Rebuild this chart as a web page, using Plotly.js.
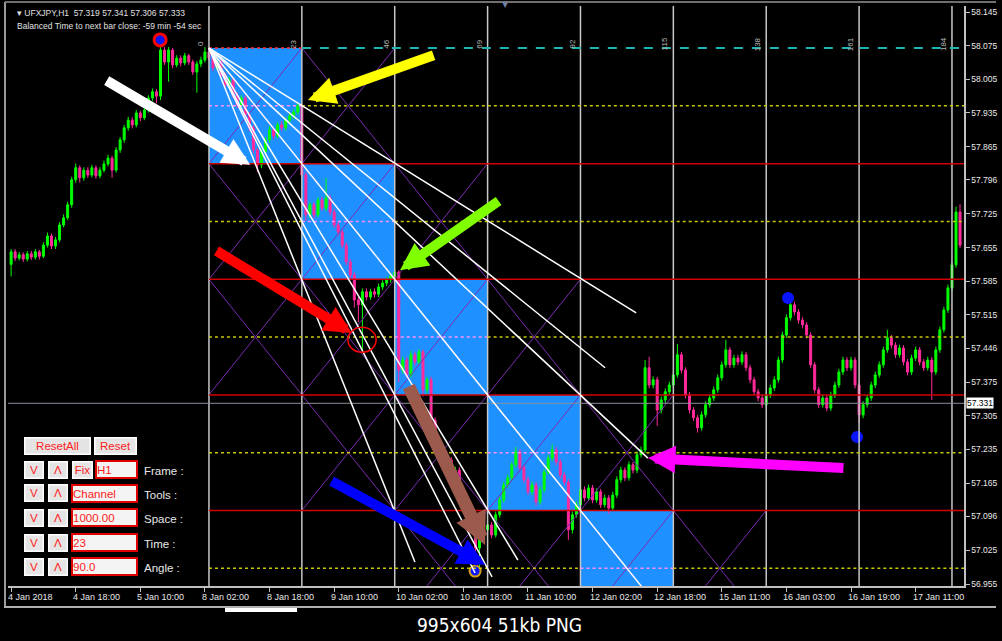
<!DOCTYPE html>
<html><head><meta charset="utf-8">
<script src="https://cdn.plot.ly/plotly-3.0.1.min.js"></script>
<style>html,body{margin:0;padding:0;background:#000;overflow:hidden}#chart{width:1002px;height:641px}</style>
</head><body><div id="chart"></div>
<script>
// ---------- DATA ----------
const firstOpen = 57.620;
const closes = [
57.646,57.633,57.640,57.631,57.642,57.635,57.646,57.637,57.660,57.679,
57.658,57.671,57.702,57.717,57.744,57.796,57.821,57.800,57.816,57.806,
57.821,57.804,57.816,57.829,57.841,57.816,57.858,57.879,57.904,57.920,
57.910,57.935,57.925,57.941,57.966,57.979,57.970,58.066,58.041,58.066,
58.035,58.049,58.039,58.054,58.041,58.020,58.037,58.045,58.062,58.049,
58.029,58.041,58.014,57.993,58.004,57.972,57.952,57.966,57.931,57.904,
57.858,57.827,57.854,57.879,57.900,57.887,57.910,57.904,57.920,57.929,
57.937,57.950,57.806,57.723,57.744,57.723,57.754,57.737,57.758,57.729,
57.702,57.687,57.660,57.625,57.598,57.546,57.536,57.563,57.552,57.563,
57.558,57.573,57.581,57.588,57.596,57.604,57.400,57.421,57.390,57.432,
57.417,57.438,57.359,57.380,57.296,57.255,57.224,57.197,57.213,57.176,
57.192,57.151,57.130,57.099,57.068,57.030,57.047,57.068,57.078,57.057,
57.099,57.130,57.161,57.176,57.203,57.230,57.197,57.172,57.147,57.161,
57.126,57.151,57.188,57.217,57.234,57.209,57.182,57.167,57.068,57.099,
57.120,57.151,57.134,57.155,57.130,57.147,57.120,57.134,57.113,57.140,
57.172,57.192,57.176,57.203,57.192,57.224,57.234,57.405,57.369,57.380,
57.317,57.338,57.355,57.369,57.390,57.432,57.400,57.348,57.317,57.301,
57.280,57.307,57.328,57.342,57.359,57.384,57.411,57.442,57.411,57.425,
57.417,57.432,57.405,57.380,57.355,57.342,57.328,57.348,57.363,57.380,
57.421,57.473,57.509,57.536,57.521,57.504,57.494,57.473,57.411,57.359,
57.328,57.342,57.321,57.348,57.369,57.396,57.421,57.405,57.421,57.369,
57.307,57.328,57.342,57.369,57.390,57.411,57.442,57.467,57.452,57.432,
57.446,57.417,57.396,57.425,57.442,57.417,57.405,57.421,57.396,57.442,
57.484,57.525,57.571,57.619,57.729,57.660];
const highs = [
57.652,57.652,57.646,57.645,57.648,57.648,57.652,57.650,57.666,57.686,
57.684,57.677,57.708,57.724,57.750,57.802,57.830,57.826,57.822,57.822,
57.827,57.826,57.822,57.836,57.848,57.846,57.864,57.885,57.910,57.927,
57.926,57.941,57.940,57.948,57.972,57.986,57.985,58.087,58.072,58.072,
58.070,58.055,58.055,58.060,58.058,58.046,58.043,58.052,58.072,58.068,
58.055,58.047,58.046,58.020,58.010,58.010,57.978,57.972,57.971,57.937,
57.910,57.862,57.860,57.885,57.907,57.906,57.916,57.917,57.926,57.935,
57.943,57.956,57.954,57.812,57.750,57.750,57.760,57.760,57.800,57.764,
57.735,57.708,57.693,57.666,57.631,57.604,57.552,57.570,57.570,57.569,
57.570,57.580,57.587,57.594,57.602,57.612,57.608,57.428,57.427,57.440,
57.438,57.444,57.443,57.386,57.386,57.302,57.261,57.230,57.220,57.219,
57.199,57.198,57.157,57.136,57.105,57.074,57.053,57.075,57.085,57.084,
57.106,57.137,57.168,57.183,57.210,57.240,57.236,57.203,57.178,57.168,
57.167,57.158,57.195,57.224,57.245,57.240,57.215,57.188,57.173,57.106,
57.127,57.158,57.158,57.162,57.161,57.154,57.153,57.141,57.140,57.147,
57.179,57.199,57.198,57.210,57.209,57.231,57.241,57.421,57.428,57.387,
57.386,57.345,57.362,57.376,57.397,57.454,57.438,57.406,57.354,57.323,
57.307,57.314,57.335,57.349,57.366,57.391,57.418,57.463,57.448,57.432,
57.432,57.439,57.438,57.411,57.386,57.361,57.348,57.355,57.370,57.387,
57.428,57.480,57.516,57.550,57.542,57.527,57.510,57.500,57.479,57.417,
57.365,57.349,57.348,57.355,57.376,57.403,57.428,57.427,57.428,57.427,
57.375,57.335,57.349,57.376,57.397,57.418,57.449,57.484,57.473,57.458,
57.453,57.452,57.423,57.432,57.449,57.448,57.423,57.428,57.427,57.449,
57.491,57.532,57.578,57.626,57.740,57.745];
const lows = [
57.595,57.627,57.628,57.625,57.626,57.629,57.630,57.630,57.633,57.655,
57.652,57.652,57.666,57.697,57.712,57.738,57.790,57.790,57.794,57.800,
57.801,57.798,57.799,57.811,57.824,57.800,57.811,57.852,57.873,57.898,
57.903,57.905,57.918,57.920,57.936,57.960,57.955,57.962,58.035,58.000,
58.028,58.030,58.032,58.034,58.035,58.014,57.977,58.030,58.040,58.043,
58.022,58.024,58.008,57.986,57.987,57.965,57.945,57.946,57.925,57.897,
57.851,57.812,57.820,57.848,57.873,57.880,57.882,57.897,57.898,57.914,
57.922,57.931,57.800,57.710,57.716,57.716,57.718,57.731,57.731,57.722,
57.696,57.680,57.653,57.618,57.590,57.530,57.500,57.442,57.545,57.546,
57.551,57.552,57.567,57.575,57.582,57.590,57.375,57.393,57.384,57.385,
57.410,57.411,57.345,57.352,57.289,57.248,57.217,57.190,57.191,57.170,
57.170,57.144,57.123,57.092,57.060,57.015,56.980,57.040,57.060,57.050,
57.052,57.093,57.124,57.155,57.170,57.197,57.190,57.165,57.140,57.140,
57.118,57.120,57.145,57.182,57.211,57.202,57.175,57.160,57.047,57.060,
57.093,57.114,57.127,57.128,57.123,57.124,57.113,57.114,57.101,57.107,
57.134,57.166,57.169,57.170,57.185,57.186,57.218,57.228,57.362,57.362,
57.284,57.310,57.331,57.349,57.363,57.384,57.393,57.341,57.310,57.294,
57.270,57.274,57.301,57.322,57.336,57.353,57.378,57.405,57.404,57.405,
57.410,57.411,57.398,57.373,57.348,57.335,57.321,57.322,57.342,57.357,
57.374,57.415,57.467,57.503,57.514,57.497,57.487,57.466,57.404,57.352,
57.321,57.322,57.314,57.315,57.342,57.363,57.390,57.398,57.399,57.362,
57.290,57.300,57.322,57.336,57.363,57.384,57.405,57.436,57.445,57.425,
57.426,57.410,57.389,57.390,57.419,57.410,57.398,57.399,57.338,57.390,
57.436,57.478,57.519,57.565,57.613,57.654];

const xTickBars = [0,16,32,48,64,80,96,112,128,144,160,176,192,208,224];
const xTickLabels = ["4 Jan 2018","4 Jan 18:00","5 Jan 10:00","8 Jan 02:00","8 Jan 18:00","9 Jan 10:00","10 Jan 02:00","10 Jan 18:00","11 Jan 10:00","12 Jan 02:00","12 Jan 18:00","15 Jan 11:00","16 Jan 03:00","16 Jan 19:00","17 Jan 11:00"];
const yTickVals = [58.145,58.075,58.005,57.935,57.865,57.796,57.725,57.655,57.585,57.515,57.446,57.375,57.305,57.235,57.165,57.096,57.025,56.955];
const yTickText = ["58.145","58.075","58.005","57.935","57.865","57.796","57.725","57.655","57.585","57.515","57.446","57.375","57.305","57.235","57.165","57.096","57.025","56.955"];
const currentPrice = 57.331;

// Gann grid tool (origin bar, origin price, cell size)
const gridBar0 = 49, gridPrice0 = 58.070, gridBars = 23, gridStep = 0.2405;
const timeLabels = ["0","23","46","69","92","115","138","161","184"];
// fan line end points [bar, price]
const fanEnds = [[100.0,57.001],[114.9,56.978],[119.1,56.970],[125.5,57.005],[164.0,56.8675],[157.7,57.217],[147.1,57.405],[154.8,57.519]];
// purple diagonal cells [column, row]
const xCells = [[0,0],[1,0],[0,1],[1,1],[2,1],[0,2],[1,2],[2,2],[3,2],[1,3],[2,3],[3,3],[4,3],[2,4],[3,4],[4,4],[5,4]];
// swing markers
const dotBars = [192.4, 209.5];
const dotPrices = [57.550, 57.261];

// ---------- BUILD ----------
const N = closes.length;
const bars = closes.map((_, i) => i);
const opens = closes.map((c, i) => i === 0 ? firstOpen : closes[i - 1]);

const L = 8, R = 38, T = 6, B = 55, W = 1002, H = 641;
const PW = W - L - R, PH = H - T - B;
const pxX = x => (x - L) / PW;
const pxY = y => (H - B - y) / PH;

const XMIN = -0.77, XMAX = 235.98, YMIN = 56.9509, YMAX = 58.1575;

const shapes = [];
const ann = [];
const ncols = 9;
// blue boxes
for (let k = 0; k < 5; k++) {
  shapes.push({type:'rect', layer:'below', xref:'x', yref:'y',
    x0: gridBar0 + k*gridBars, x1: gridBar0 + (k+1)*gridBars,
    y0: gridPrice0 - k*gridStep, y1: gridPrice0 - (k+1)*gridStep,
    fillcolor:'#1e90ff', line:{width:0}});
}
// purple diagonals
xCells.forEach(([c, r]) => {
  const x0 = gridBar0 + c*gridBars, x1 = x0 + gridBars;
  const y0 = gridPrice0 - r*gridStep, y1 = y0 - gridStep;
  shapes.push({type:'line', xref:'x', yref:'y', x0:x0, y0:y0, x1:x1, y1:y1, line:{color:'#7d2bb0', width:1}});
  shapes.push({type:'line', xref:'x', yref:'y', x0:x0, y0:y1, x1:x1, y1:y0, line:{color:'#7d2bb0', width:1}});
});
// vertical time lines
for (let k = 0; k < ncols; k++) {
  const xb = gridBar0 + k*gridBars;
  shapes.push({type:'line', xref:'x', yref:'paper', x0:xb, x1:xb, y0:0, y1:1, line:{color:'#c8c8c8', width:1.5}});
  ann.push({xref:'x', yref:'paper', x:xb - 0.6, y:pxY(44), text:timeLabels[k], showarrow:false, textangle:-90,
    xanchor:'right', yanchor:'middle', font:{family:'Liberation Sans', size:8, color:'#b8b8b8'}});
}
// red and yellow horizontal levels
for (let k = 1; k <= 4; k++) {
  shapes.push({type:'line', xref:'x', yref:'y', x0:gridBar0, x1:XMAX, y0:gridPrice0 - k*gridStep, y1:gridPrice0 - k*gridStep,
    line:{color:'#d00000', width:1.5}});
}
for (let k = 0; k < 5; k++) {
  const yv = gridPrice0 - (k + 0.5)*gridStep;
  const bx0 = gridBar0 + k*gridBars, bx1 = bx0 + gridBars;
  shapes.push({type:'line', xref:'x', yref:'y', x0:gridBar0, x1:bx0, y0:yv, y1:yv, line:{color:'#c8c800', width:1.5, dash:'dot'}});
  shapes.push({type:'line', xref:'x', yref:'y', x0:bx0, x1:bx1, y0:yv, y1:yv, line:{color:'#ff90ff', width:1.5, dash:'dot'}});
  shapes.push({type:'line', xref:'x', yref:'y', x0:bx1, x1:XMAX, y0:yv, y1:yv, line:{color:'#c8c800', width:1.5, dash:'dot'}});
}
// top level: red dotted on first box, cyan dashed beyond
shapes.push({type:'line', xref:'x', yref:'y', x0:gridBar0, x1:gridBar0+gridBars, y0:gridPrice0, y1:gridPrice0, line:{color:'#ff3030', width:1.5, dash:'dot'}});
shapes.push({type:'line', xref:'x', yref:'y', x0:gridBar0+gridBars, x1:XMAX, y0:gridPrice0, y1:gridPrice0, line:{color:'#1fb5b0', width:2, dash:'dash'}});
// current price line
shapes.push({type:'line', xref:'paper', yref:'y', x0:0, x1:1, y0:currentPrice, y1:currentPrice, line:{color:'#8a8f9a', width:1}});
// fan lines
fanEnds.forEach(([xb, yp]) => {
  shapes.push({type:'line', xref:'x', yref:'y', x0:gridBar0, y0:gridPrice0, x1:xb, y1:yp, line:{color:'#ffffff', width:1.5}});
});
// red circle
shapes.push({type:'circle', xref:'x', yref:'y', x0:83.4, x1:90.4, y0:57.437, y1:57.489, line:{color:'#ff0000', width:1.5}});

// arrows
const arrows = [
  {c:'#ffffff', t:[23.3,58.004], h:[59.2,57.827], w:10, s:0.55},
  {c:'#ffff00', t:[105.0,58.056], h:[73.5,57.962], w:10, s:0.55},
  {c:'#ff0000', t:[50.5,57.650], h:[84.4,57.477], w:10, s:0.55},
  {c:'#80ff00', t:[121.1,57.754], h:[96.3,57.608], w:10, s:0.55},
  {c:'#0000ff', t:[79.0,57.171], h:[117.4,56.995], w:10, s:0.55},
  {c:'#9c5a4c', t:[98.3,57.369], h:[117.4,57.036], w:13, s:0.5},
  {c:'#ff00ff', t:[206.5,57.196], h:[157.7,57.217], w:10, s:0.55}
];
arrows.forEach(a => ann.push({xref:'x', yref:'y', axref:'x', ayref:'y', x:a.h[0], y:a.h[1], ax:a.t[0], ay:a.t[1],
  text:'', showarrow:true, arrowhead:2, arrowsize:a.s, arrowwidth:a.w, arrowcolor:a.c}));

// x tick labels (left aligned like the terminal)
xTickBars.forEach((b, i) => ann.push({xref:'x', yref:'paper', x:b, xshift:-5, y:pxY(597), text:xTickLabels[i], showarrow:false,
  xanchor:'left', yanchor:'middle', font:{family:'Liberation Sans', size:9, color:'#e8e8e8'}}));

// current price tag
ann.push({xref:'paper', yref:'y', x:pxX(966), y:currentPrice, text:'57.331', showarrow:false, xanchor:'left', yanchor:'middle',
  bgcolor:'#ffffff', borderpad:0, font:{family:'Liberation Sans', size:8.5, color:'#000000'}});

// header texts
ann.push({xref:'paper', yref:'paper', x:pxX(15), y:pxY(13), text:'▾ UFXJPY,H1  57.319 57.341 57.306 57.333', showarrow:false,
  xanchor:'left', yanchor:'middle', font:{family:'Liberation Sans', size:8.5, color:'#e0e0e0'}});
ann.push({xref:'paper', yref:'paper', x:pxX(15), y:pxY(26), text:'Balanced Time to next bar close: -59 min -54 sec', showarrow:false,
  xanchor:'left', yanchor:'middle', font:{family:'Liberation Sans', size:8.5, color:'#e0e0e0'}});
ann.push({xref:'paper', yref:'paper', x:pxX(505), y:pxY(4), text:'▼', showarrow:false, xanchor:'center', yanchor:'middle',
  font:{family:'DejaVu Sans', size:8, color:'#7080a0'}});

// control panel
function btn(x0, y0, x1, y1, text, field) {
  ann.push({xref:'paper', yref:'paper', x:pxX((x0+x1)/2), y:pxY((y0+y1)/2), width:x1-x0-4, height:y1-y0-4,
    text:text, showarrow:false, xanchor:'center', yanchor:'middle', align:field ? 'left' : 'center',
    bgcolor: field ? '#f4f4f4' : '#e4e4e4', bordercolor: field ? '#e00000' : '#ffffff', borderwidth: field ? 2 : 1.5, borderpad:0,
    font:{family:'Liberation Sans', size:11.5, color:'#ff2020'}});
}
btn(23, 436, 91, 455, 'ResetAll', false);
btn(93, 436, 137, 455, 'Reset', false);
const rowsY = [460, 484, 508, 533, 557];
const rowFields = ['H1','Channel','1000.00','23','90.0'];
const rowLabels = ['Frame :','Tools :','Space :','Time :','Angle :'];
rowsY.forEach((y, i) => {
  btn(23, y, 44, y + 19, 'V', false);
  btn(47, y, 68, y + 19, 'Λ', false);
  if (i === 0) { btn(71, y, 93, y + 19, 'Fix', false); btn(95, y, 138, y + 19, 'H1', true); }
  else btn(71, y, 138, y + 19, rowFields[i], true);
  ann.push({xref:'paper', yref:'paper', x:pxX(142), y:pxY(y + 11), text:rowLabels[i], showarrow:false, xanchor:'left', yanchor:'middle',
    font:{family:'Liberation Sans', size:11.5, color:'#e8e8e8'}});
});

// window frame & footer
shapes.push({type:'line', xref:'paper', yref:'paper', x0:pxX(5), x1:pxX(5), y0:pxY(2), y1:pxY(607), line:{color:'#9a9a9a', width:2}});
shapes.push({type:'line', xref:'paper', yref:'paper', x0:pxX(4), x1:pxX(996), y0:pxY(607), y1:pxY(607), line:{color:'#b0b0b0', width:2}});
shapes.push({type:'line', xref:'paper', yref:'paper', x0:pxX(5), x1:pxX(996), y0:pxY(2), y1:pxY(2), line:{color:'#707070', width:2}});
shapes.push({type:'rect', xref:'paper', yref:'paper', x0:pxX(225), x1:pxX(297), y0:pxY(608), y1:pxY(612), fillcolor:'#ffffff', line:{width:0}});
ann.push({xref:'paper', yref:'paper', x:pxX(500), y:pxY(625), text:'995x604 51kb PNG', showarrow:false, xanchor:'center', yanchor:'middle',
  font:{family:'DejaVu Sans Condensed, DejaVu Sans', size:19, color:'#ffffff'}});

const traces = [
  {type:'candlestick', x:bars, open:opens, high:highs, low:lows, close:closes,
   increasing:{line:{color:'#00ff00', width:1}, fillcolor:'#00ff00'},
   decreasing:{line:{color:'#ff2a9c', width:1}, fillcolor:'#ff2a9c'},
   whiskerwidth:0, hoverinfo:'skip', showlegend:false},
  {type:'scatter', mode:'markers', x:dotBars, y:dotPrices, marker:{color:'#0a14ff', size:12}, hoverinfo:'skip', showlegend:false},
  {type:'scatter', mode:'markers', x:[36.9], y:[58.087], marker:{color:'#0a14ff', size:12, line:{color:'#ff0000', width:3}}, hoverinfo:'skip', showlegend:false},
  {type:'scatter', mode:'markers', x:[114.9], y:[56.982], marker:{color:'#0a14ff', size:11, line:{color:'#d4a017', width:2}}, hoverinfo:'skip', showlegend:false}
];

const layout = {
  width:W, height:H, margin:{l:L, r:R, t:T, b:B, pad:0},
  paper_bgcolor:'#000000', plot_bgcolor:'#000000', showlegend:false,
  xaxis:{range:[XMIN, XMAX], showgrid:false, zeroline:false, showticklabels:false, tickvals:xTickBars,
    ticks:'outside', ticklen:4, tickcolor:'#c0c0c0', showline:true, linecolor:'#c0c0c0', linewidth:1.5,
    rangeslider:{visible:false}, fixedrange:true},
  yaxis:{range:[YMIN, YMAX], side:'right', showgrid:false, zeroline:false, tickvals:yTickVals, ticktext:yTickText,
    ticks:'outside', ticklen:4, tickcolor:'#c0c0c0', showline:true, linecolor:'#c0c0c0', linewidth:1.5,
    tickfont:{family:'Liberation Sans', size:8.5, color:'#e8e8e8'}, fixedrange:true},
  shapes:shapes, annotations:ann
};
Plotly.newPlot('chart', traces, layout, {staticPlot:true, displayModeBar:false});
</script></body></html>
